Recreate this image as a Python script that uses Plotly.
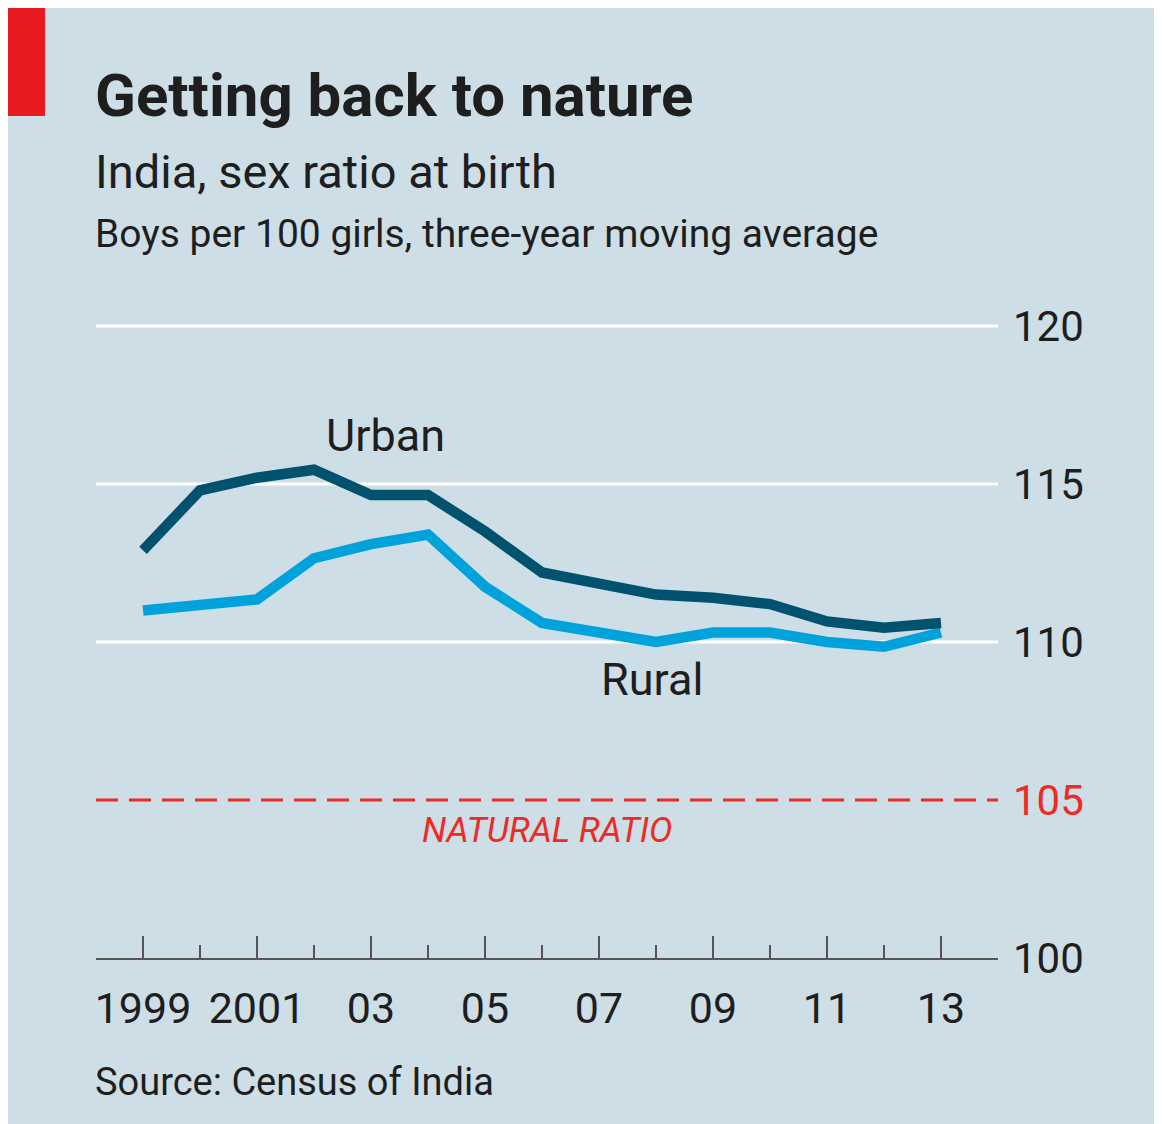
import plotly.graph_objects as go

years = list(range(1999, 2014))
urban = [112.9, 114.8, 115.2, 115.45, 114.65, 114.65, 113.5, 112.2, 111.85, 111.5, 111.4, 111.2, 110.65, 110.45, 110.6]
rural = [111.0, 111.2, 111.35, 112.65, 113.1, 113.4, 111.75, 110.6, 110.3, 110.0, 110.3, 110.3, 110.0, 109.85, 110.3]
ytick_vals = [100, 105, 110, 115, 120]
xtick_vals = [1999, 2001, 2003, 2005, 2007, 2009, 2011, 2013]
xtick_text = ["1999", "2001", "03", "05", "07", "09", "11", "13"]
natural_ratio = 105

BG = "rgb(206,222,230)"
URBAN_C = "#00526e"
RURAL_C = "#00a2dc"
RED = "#ee2a24"
TXT = "#1e1e1e"
FONT = "Roboto"

OFF = 8  # page body margin
W, H = 1162 - OFF, 1124 - OFF
L, R, T, B = 88, 164, 292, 166
pw, ph = W - L - R, H - T - B

def px(xp):
    return (xp - OFF - L) / pw

def py(yp):
    return (H - B - (yp - OFF)) / ph

fig = go.Figure()

for v in [110, 115, 120]:
    fig.add_shape(type="line", xref="paper", yref="y", x0=0, x1=1, y0=v, y1=v,
                  line=dict(color="white", width=3), layer="below")
fig.add_shape(type="line", xref="paper", yref="y", x0=0, x1=1, y0=natural_ratio, y1=natural_ratio,
              line=dict(color=RED, width=3, dash="22px,11px"), layer="below")

fig.add_trace(go.Scatter(x=years, y=rural, mode="lines", line=dict(color=RURAL_C, width=10.5),
                         hoverinfo="skip", showlegend=False))
fig.add_trace(go.Scatter(x=years, y=urban, mode="lines", line=dict(color=URBAN_C, width=10.5),
                         hoverinfo="skip", showlegend=False))

fig.add_shape(type="rect", xref="paper", yref="paper", x0=px(8), x1=px(45), y0=py(116), y1=py(8),
              fillcolor="#e8191f", line=dict(width=0))

def txt(x, y, s, size, color=TXT, bold=False, xanchor="left", italic=False, xref="paper", yref="paper"):
    fig.add_annotation(x=x, y=y, xref=xref, yref=yref, text=s, showarrow=False,
                       xanchor=xanchor, yanchor="middle",
                       font=dict(family=FONT, size=size, color=color,
                                 weight="bold" if bold else "normal",
                                 style="italic" if italic else "normal"))

txt(px(93), py(96), "Getting back to nature", 60, bold=True)
txt(px(93), py(172), "India, sex ratio at birth", 47)
txt(px(93), py(234), "Boys per 100 girls, three-year moving average", 39)
txt(px(93), py(1082), "Source: Census of India", 38)

txt(2003.25, 116.55, "Urban", 45, xanchor="center", xref="x", yref="y")
txt(2007.93, 108.8, "Rural", 45, xanchor="center", xref="x", yref="y")
txt(2006.09, 104.05, "NATURAL RATIO", 35, color=RED, xanchor="center", italic=True, xref="x", yref="y")

ytext = [f'<span style="color:{RED}">{v}</span>' if v == natural_ratio else str(v) for v in ytick_vals]

fig.update_layout(
    width=W, height=H,
    margin=dict(l=L, r=R, t=T, b=B, pad=0),
    paper_bgcolor=BG, plot_bgcolor=BG,
    font=dict(family=FONT, color=TXT),
    xaxis=dict(range=[1998.175, 2014.0], tickvals=xtick_vals, ticktext=xtick_text,
               ticks="inside", ticklen=22, tickwidth=2, tickcolor="#555555",
               minor=dict(tickvals=list(range(2000, 2014, 2)), ticks="inside", ticklen=13,
                          tickwidth=2, tickcolor="#555555", showgrid=False),
               showline=True, linecolor="#555555", linewidth=2, showgrid=False, zeroline=False,
               tickfont=dict(size=43, color=TXT), ticklabelstandoff=11, fixedrange=True),
    yaxis=dict(range=[100, 100 + ph / 31.6], side="right", tickvals=ytick_vals, ticktext=ytext,
               showgrid=False, zeroline=False, ticks="", showline=False,
               tickfont=dict(size=42, color=TXT), ticklabelstandoff=14, fixedrange=True),
)

fig.write_html("out.html")
